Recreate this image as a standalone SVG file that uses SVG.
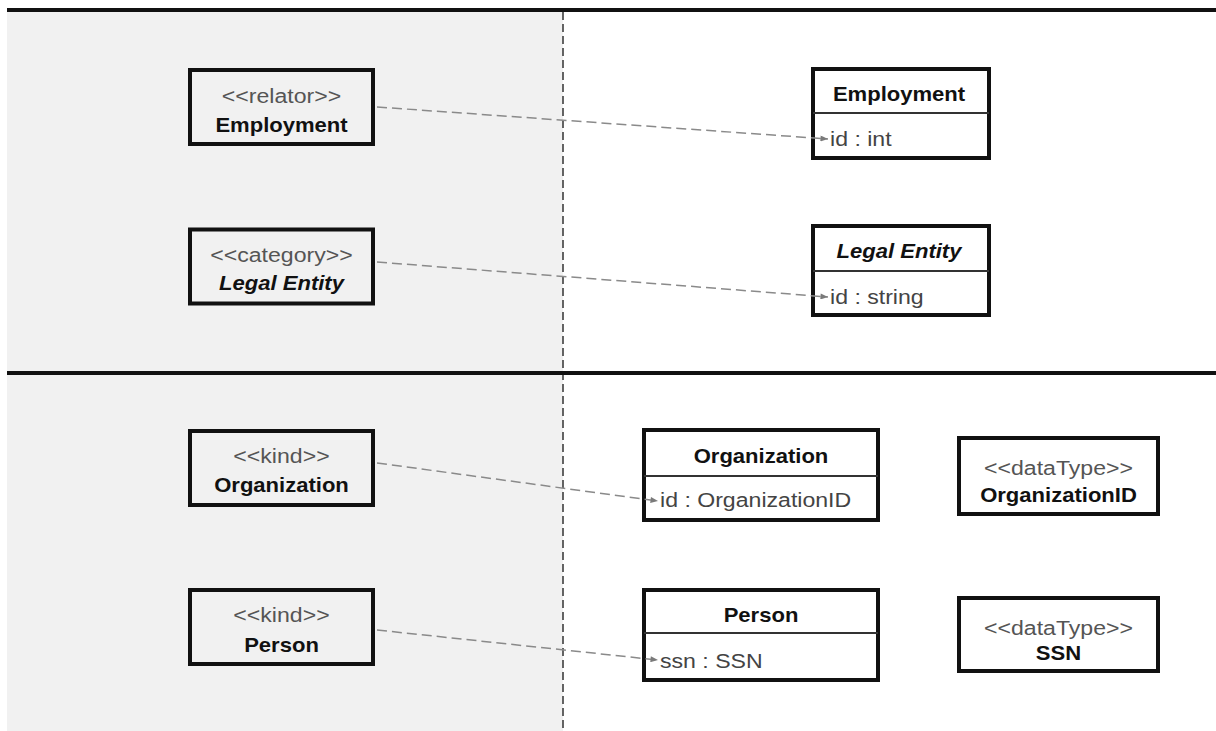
<svg xmlns="http://www.w3.org/2000/svg" width="1216" height="731" viewBox="0 0 1216 731">
<style>
text{font-family:"Liberation Sans",Arial,sans-serif;font-size:21px}
.st{fill:#555;text-anchor:middle}
.nm{fill:#111;font-weight:bold;text-anchor:middle}
.it{font-style:italic}
.at{fill:#444}
.lb{fill:#f1f1f1;stroke:#111;stroke-width:4}
.rb{fill:#fff;stroke:#111;stroke-width:4}
.dv{stroke:#333;stroke-width:2}
.cn{fill:none;stroke:#8a8a8a;stroke-width:1.5;stroke-dasharray:10 5}
</style>
<defs>
<marker id="ah" viewBox="0 0 10 8" refX="10" refY="4" markerWidth="9" markerHeight="6" markerUnits="userSpaceOnUse" orient="auto">
<path d="M0,0 L10,4 L0,8 z" fill="#7a7a7a"/>
</marker>
</defs>
<rect x="0" y="0" width="1216" height="731" fill="#fff"/>
<g id="background">
<rect x="7" y="10" width="556" height="721" fill="#f1f1f1"/>
<line x1="563" y1="12" x2="563" y2="731" stroke="#333" stroke-width="1.5" stroke-dasharray="8 4"/>
<line x1="7" y1="10" x2="1216" y2="10" stroke="#111" stroke-width="4"/>
<line x1="7" y1="373" x2="1216" y2="373" stroke="#111" stroke-width="4"/>
</g>
<g id="relator-employment">
<rect class="lb" x="190" y="70" width="183" height="74"/>
<text class="st" transform="translate(281.5,102.7) scale(1.1,1)">&lt;&lt;relator&gt;&gt;</text>
<text class="nm" transform="translate(281.5,131.7) scale(1.05,1)">Employment</text>
</g>
<g id="category-legal-entity">
<rect class="lb" x="190" y="229.5" width="183" height="74"/>
<text class="st" transform="translate(281.5,261.7) scale(1.1,1)">&lt;&lt;category&gt;&gt;</text>
<text class="nm it" transform="translate(281.5,290) scale(1.05,1)">Legal Entity</text>
</g>
<g id="kind-organization">
<rect class="lb" x="190" y="431" width="183" height="74"/>
<text class="st" transform="translate(281.5,462.7) scale(1.1,1)">&lt;&lt;kind&gt;&gt;</text>
<text class="nm" transform="translate(281.5,491.7) scale(1.05,1)">Organization</text>
</g>
<g id="kind-person">
<rect class="lb" x="190" y="590" width="183" height="74"/>
<text class="st" transform="translate(281.5,621.7) scale(1.1,1)">&lt;&lt;kind&gt;&gt;</text>
<text class="nm" transform="translate(281.5,651.7) scale(1.05,1)">Person</text>
</g>
<g id="class-employment">
<rect class="rb" x="813" y="69" width="176" height="89"/>
<line class="dv" x1="813" y1="113" x2="989" y2="113"/>
<text class="nm" transform="translate(899,100.7) scale(1.05,1)">Employment</text>
<text class="at" transform="translate(830,146) scale(1.1,1)">id : int</text>
</g>
<g id="class-legal-entity">
<rect class="rb" x="813" y="226" width="176" height="89"/>
<line class="dv" x1="813" y1="271" x2="989" y2="271"/>
<text class="nm it" transform="translate(899,257.7) scale(1.05,1)">Legal Entity</text>
<text class="at" transform="translate(830,304) scale(1.1,1)">id : string</text>
</g>
<g id="class-organization">
<rect class="rb" x="644" y="430" width="234" height="90"/>
<line class="dv" x1="644" y1="476" x2="878" y2="476"/>
<text class="nm" transform="translate(761,463) scale(1.05,1)">Organization</text>
<text class="at" transform="translate(660,507) scale(1.1,1)">id : OrganizationID</text>
</g>
<g id="class-person">
<rect class="rb" x="644" y="590" width="234" height="90"/>
<line class="dv" x1="644" y1="633" x2="878" y2="633"/>
<text class="nm" transform="translate(761,621.7) scale(1.05,1)">Person</text>
<text class="at" transform="translate(660,668) scale(1.1,1)">ssn : SSN</text>
</g>
<g id="datatype-organizationid">
<rect class="rb" x="959" y="438" width="199" height="76"/>
<text class="st" transform="translate(1058.5,475) scale(1.1,1)">&lt;&lt;dataType&gt;&gt;</text>
<text class="nm" transform="translate(1058.5,501.7) scale(1.05,1)">OrganizationID</text>
</g>
<g id="datatype-ssn">
<rect class="rb" x="959" y="598" width="199" height="73"/>
<text class="st" transform="translate(1058.5,635) scale(1.1,1)">&lt;&lt;dataType&gt;&gt;</text>
<text class="nm" transform="translate(1058.5,660) scale(1.05,1)">SSN</text>
</g>
<g id="connectors">
<line class="cn" x1="377" y1="107" x2="828" y2="139" marker-end="url(#ah)"/>
<line class="cn" x1="377" y1="262" x2="828" y2="297" marker-end="url(#ah)"/>
<line class="cn" x1="377" y1="463" x2="658" y2="501" marker-end="url(#ah)"/>
<line class="cn" x1="377" y1="630" x2="658" y2="660" marker-end="url(#ah)"/>
</g>
</svg>
